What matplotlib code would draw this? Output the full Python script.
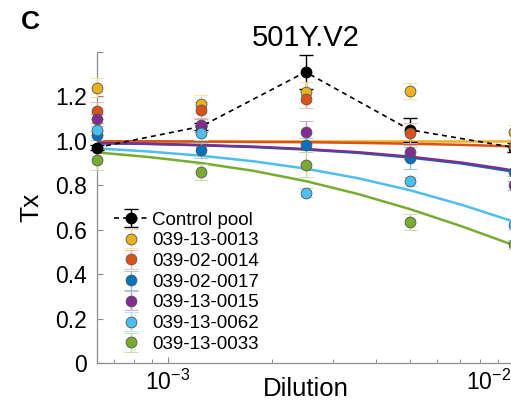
import matplotlib
matplotlib.use("Agg")
import matplotlib.pyplot as plt
from matplotlib.ticker import FixedLocator, FixedFormatter, LogLocator, NullFormatter
from matplotlib.transforms import ScaledTranslation
import matplotlib.colors as mcolors

plt.rcParams['font.family'] = ['Liberation Sans', 'DejaVu Sans']
plt.rcParams['mathtext.fontset'] = 'custom'
plt.rcParams['mathtext.rm'] = 'Liberation Sans'
plt.rcParams['mathtext.it'] = 'Liberation Sans:italic'

# ---------------- data ----------------
panel_label = "C"
title = "501Y.V2"
x_label = "Dilution"
y_label = "Tx"

dilution = [1 / 1600, 1 / 800, 1 / 400, 1 / 200, 1 / 100]

control_name = "Control pool"
control_tx = [0.97, 1.065, 1.31, 1.05, 0.97]
control_err = [0.012, 0.015, 0.075, 0.055, 0.02]

series_names = ["039-13-0013", "039-02-0014", "039-02-0017",
                "039-13-0015", "039-13-0062", "039-13-0033"]
series_colors = ["#EDB120", "#D95319", "#0072BD", "#7E2F8E", "#4DBEEE", "#77AC30"]

tx_0013 = [1.24, 1.165, 1.22, 1.225, 1.04]
tx_0014 = [1.135, 1.14, 1.187, 1.035, 0.975]
tx_0017 = [1.025, 0.957, 0.982, 0.924, 0.86]
tx_0015 = [1.10, 1.07, 1.04, 0.95, 0.80]
tx_0062 = [1.047, 1.035, 0.767, 0.818, 0.62]
tx_0033 = [0.915, 0.86, 0.893, 0.635, 0.535]

err_0013 = [0.043, 0.04, 0.045, 0.037, 0.03]
err_0014 = [0.038, 0.035, 0.04, 0.045, 0.02]
err_0017 = [0.02, 0.035, 0.03, 0.05, 0.02]
err_0015 = [0.02, 0.03, 0.048, 0.03, 0.02]
err_0062 = [0.02, 0.03, 0.02, 0.02, 0.02]
err_0033 = [0.048, 0.037, 0.055, 0.035, 0.02]

# fitted curves
fit_dilution = [6.25e-4, 8.84e-4, 1.25e-3, 1.77e-3, 2.5e-3, 3.54e-3, 5e-3, 7.07e-3, 1e-2]
fit_0013 = [0.998, 0.998, 0.998, 0.998, 0.998, 0.998, 0.998, 0.998, 0.998]
fit_0014 = [0.998, 0.998, 0.997, 0.995, 0.994, 0.991, 0.987, 0.982, 0.975]
fit_0017 = [0.990, 0.986, 0.980, 0.972, 0.961, 0.946, 0.925, 0.898, 0.861]
fit_0015 = [0.990, 0.987, 0.981, 0.974, 0.963, 0.949, 0.929, 0.902, 0.867]
fit_0062 = [0.966, 0.952, 0.933, 0.908, 0.875, 0.832, 0.778, 0.712, 0.636]
fit_0033 = [0.948, 0.927, 0.900, 0.865, 0.819, 0.761, 0.693, 0.615, 0.530]

y_ticks = [0, 0.2, 0.4, 0.6, 0.8, 1.0, 1.2, 1.4]
y_tick_labels = ["0", "0.2", "0.4", "0.6", "0.8", "1.0", "1.2", ""]
x_ticks = [1e-3, 1e-2]
x_tick_labels = [r"$10^{-3}$", r"$10^{-2}$"]

series_tx = [tx_0013, tx_0014, tx_0017, tx_0015, tx_0062, tx_0033]
series_err = [err_0013, err_0014, err_0017, err_0015, err_0062, err_0033]
series_fit = [fit_0013, fit_0014, fit_0017, fit_0015, fit_0062, fit_0033]

# ---------------- figure ----------------
W, H = 511, 407
fig = plt.figure(figsize=(W / 100, H / 100), dpi=100)
ax = fig.add_axes([97 / W, 44 / H, 417 / W, 311 / H])
ax.set_xscale("log")
ax.set_xlim(6.25e-4, 1e-2)
ax.set_ylim(0, 1.4)

# fitted curves
for fit, col in zip(series_fit, series_colors):
    ax.plot(fit_dilution, fit, color=col, lw=1.8, zorder=2, solid_capstyle="butt")

handles = []
# control pool
h = ax.errorbar(dilution, control_tx, yerr=control_err, fmt="o", color="k",
                ls=(0, (3, 2.5)), lw=1.2, ms=7.5, mec="k", mfc="k",
                ecolor="k", elinewidth=1.0, capsize=5, capthick=1.0,
                zorder=3, clip_on=False, label=control_name)
handles.append(h)

for tx, err, col, name in zip(series_tx, series_err, series_colors, series_names):
    light = tuple(0.45 * c + 0.55 for c in mcolors.to_rgb(col))
    h = ax.errorbar(dilution, tx, yerr=err, fmt="o", color=col, mfc=col,
                    mec="#555555", mew=0.6, ms=7.8, ecolor=light,
                    elinewidth=1.0, capsize=5, capthick=1.0, zorder=3,
                    clip_on=False, label=name)
    handles.append(h)

# axes styling
for s in ["top", "right"]:
    ax.spines[s].set_visible(False)
for s in ["left", "bottom"]:
    ax.spines[s].set_color("#8c8c8c")
    ax.spines[s].set_linewidth(0.9)

ax.yaxis.set_major_locator(FixedLocator(y_ticks))
ax.yaxis.set_major_formatter(FixedFormatter(y_tick_labels))
ax.xaxis.set_major_locator(FixedLocator(x_ticks))
ax.xaxis.set_major_formatter(FixedFormatter(x_tick_labels))
ax.xaxis.set_minor_locator(LogLocator(base=10, subs=[2, 3, 4, 5, 6, 7, 8, 9]))
ax.xaxis.set_minor_formatter(NullFormatter())
ax.tick_params(which="both", direction="in", color="#8c8c8c", labelcolor="k",
               labelsize=16.5)
ax.tick_params(which="major", length=4, width=0.8, pad=7)
ax.tick_params(which="minor", length=3, width=0.7)
ax.tick_params(axis="x", pad=5)

fig.canvas.draw()
for lab in ax.get_xticklabels():
    if "-2" in lab.get_text():
        lab.set_ha("right")
        lab.set_transform(lab.get_transform() + ScaledTranslation(-0.03, 0, fig.dpi_scale_trans))

ax.set_title(title, fontsize=21, pad=2)
ax.set_xlabel(x_label, fontsize=18.5)
ax.xaxis.set_label_coords(0.5, -0.045)
ax.set_ylabel(y_label, fontsize=19)
ax.yaxis.set_label_coords(-0.128, 0.5)

fig.text(21 / W, 1 - 10 / H, panel_label, fontsize=19, fontweight="bold",
         ha="left", va="top")

leg = ax.legend(handles=handles, loc="upper left",
                bbox_to_anchor=(0.04, 0.487), frameon=False, fontsize=13.5,
                handlelength=1.9, handletextpad=0.15, labelspacing=0.19,
                borderpad=0, borderaxespad=0)

fig.savefig("out.png", dpi=100)
